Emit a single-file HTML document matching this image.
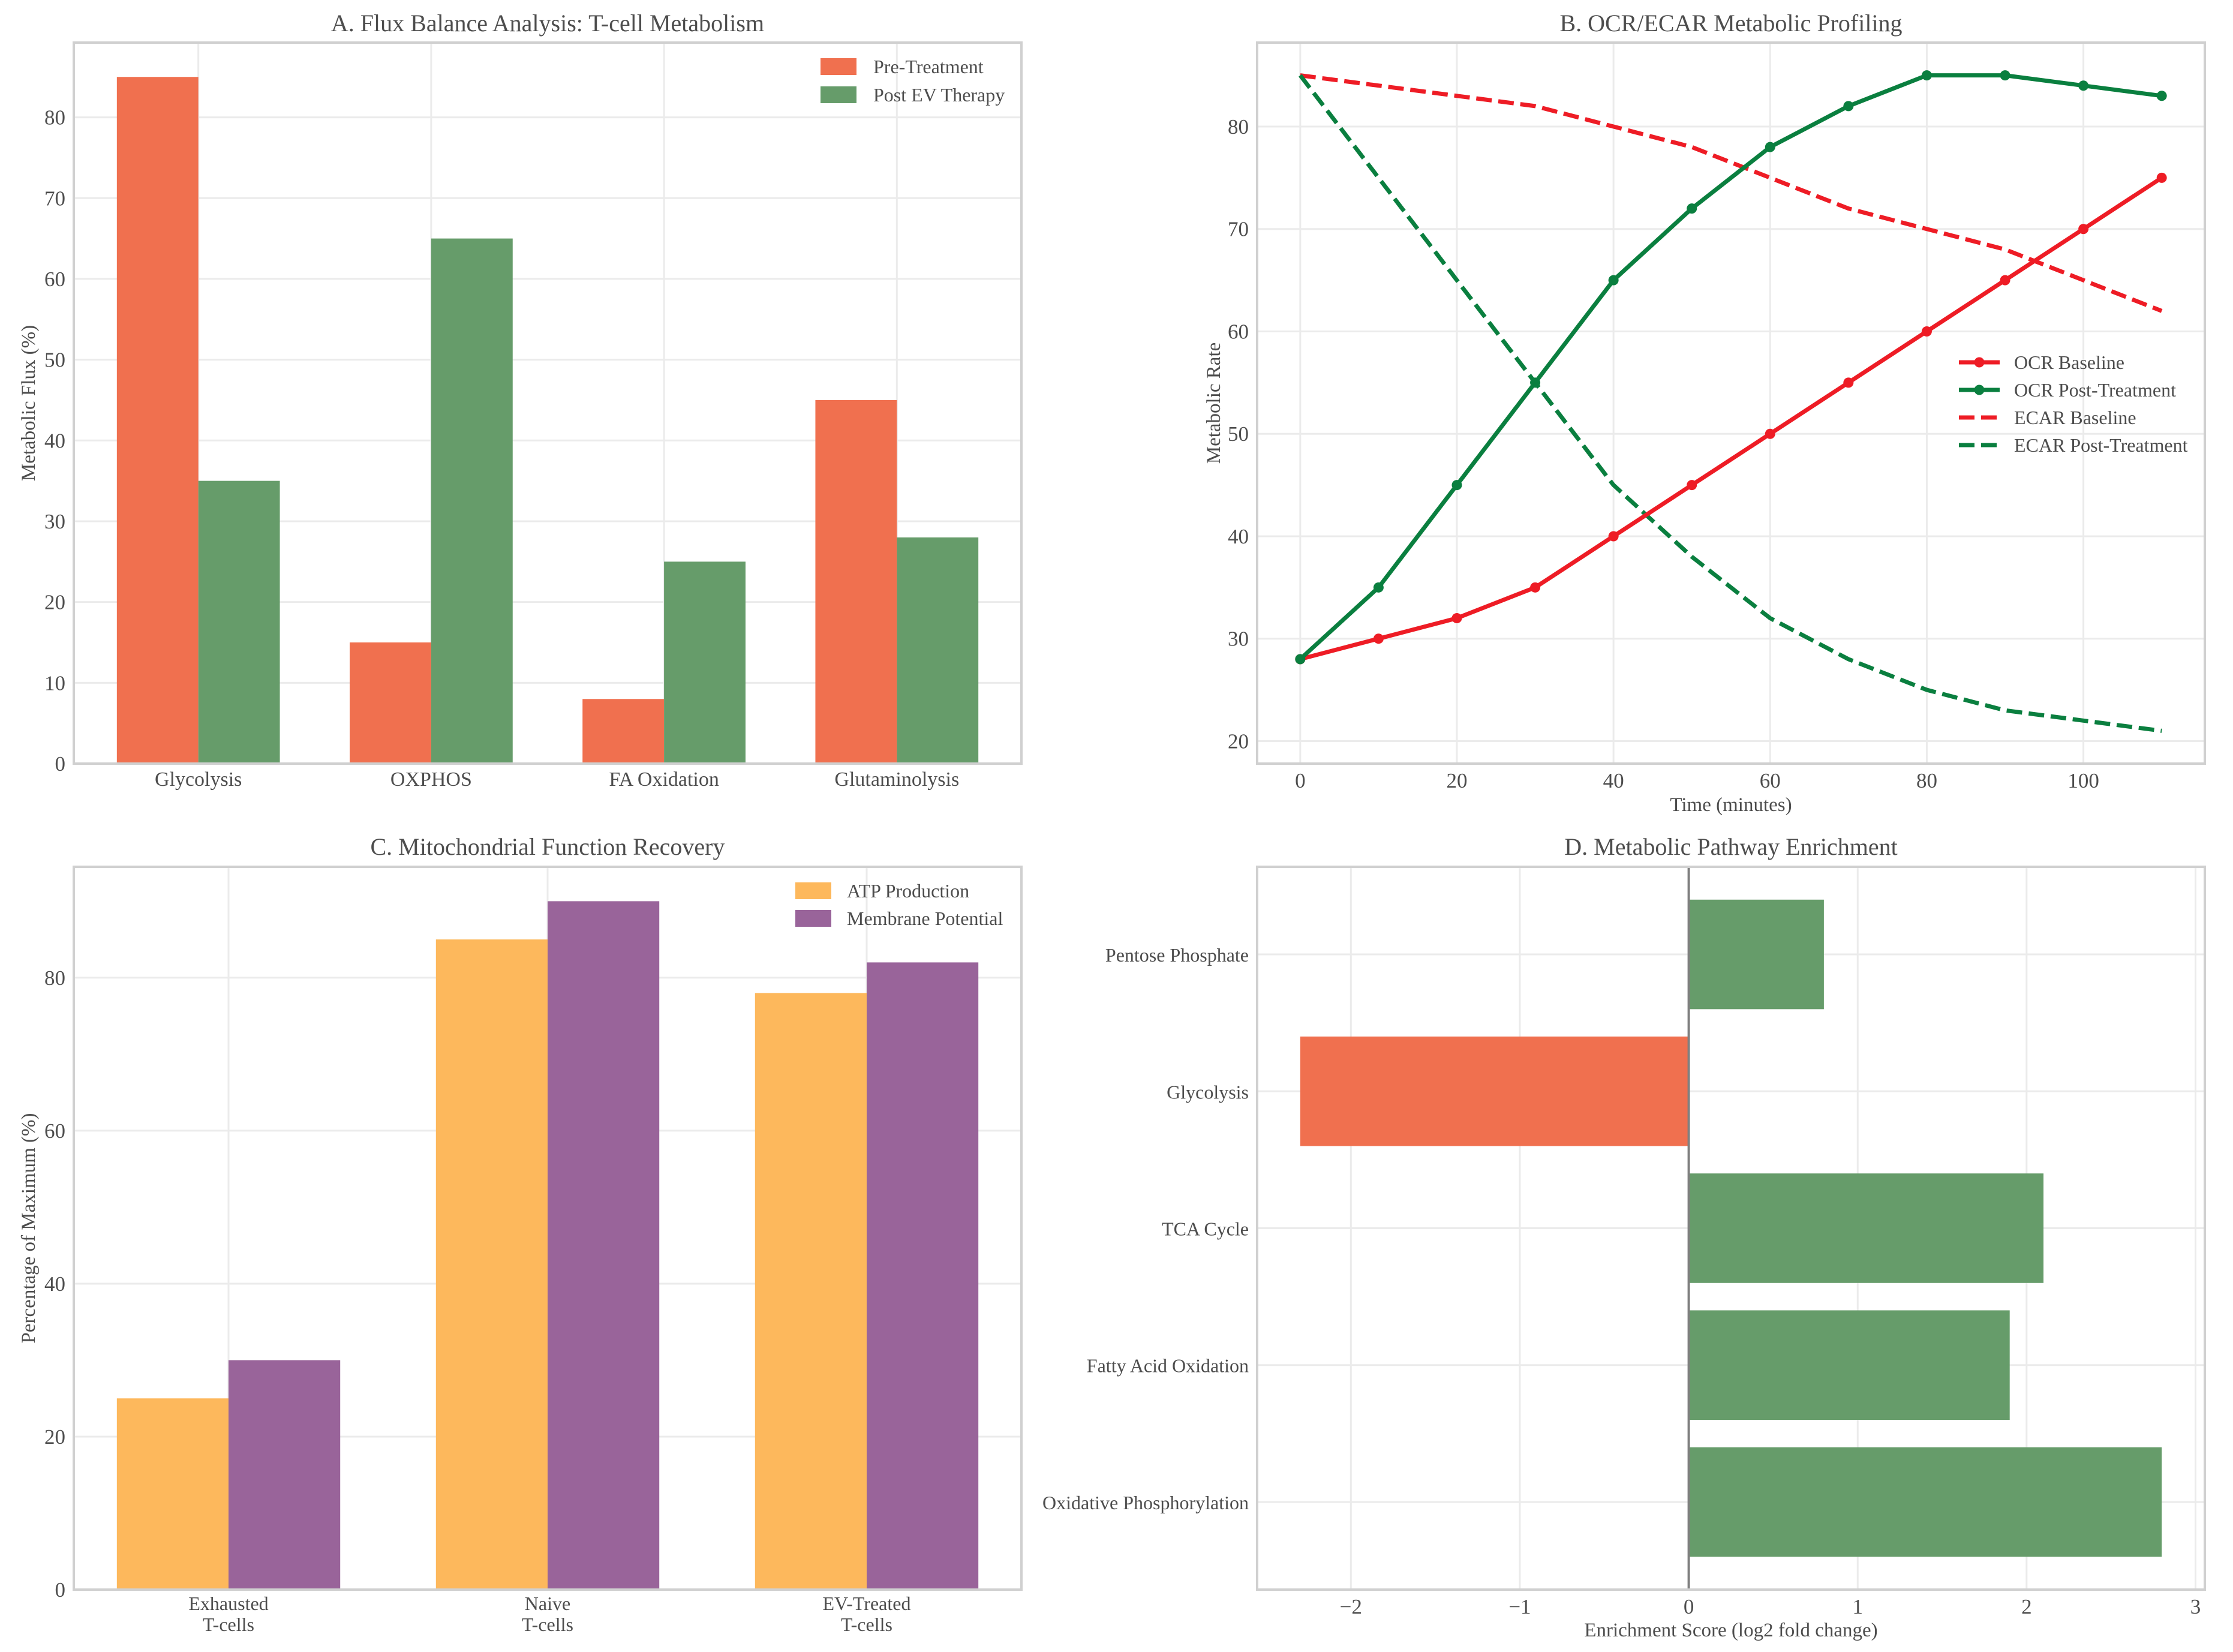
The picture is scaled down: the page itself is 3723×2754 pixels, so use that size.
<!DOCTYPE html>
<html><head><meta charset="utf-8"><style>
html,body{margin:0;padding:0;background:#fff;}
svg{display:block;font-family:"Liberation Serif","DejaVu Serif",serif;}
text{fill:#4d4d4d;}
</style></head><body>
<svg id="fig" width="3723" height="2754" viewBox="0 0 3723 2754" xmlns="http://www.w3.org/2000/svg"></svg>
<script>
// Panel A data
const fluxCategories = ["Glycolysis","OXPHOS","FA Oxidation","Glutaminolysis"];
const fluxPre = [85,15,8,45];
const fluxPost = [35,65,25,28];
const fluxTicks = [0,10,20,30,40,50,60,70,80];
// Panel B data
const timePoints = [0,10,20,30,40,50,60,70,80,90,100,110];
const ocrBaseline = [28,30,32,35,40,45,50,55,60,65,70,75];
const ocrPost = [28,35,45,55,65,72,78,82,85,85,84,83];
const ecarBaseline = [85,84,83,82,80,78,75,72,70,68,65,62];
const ecarPost = [85,75,65,55,45,38,32,28,25,23,22,21];
const timeTicks = [0,20,40,60,80,100];
const rateTicks = [20,30,40,50,60,70,80];
// Panel C data
const mitoCategories = [["Exhausted","T-cells"],["Naive","T-cells"],["EV-Treated","T-cells"]];
const atpValues = [25,85,78];
const membraneValues = [30,90,82];
const mitoTicks = [0,20,40,60,80];
// Panel D data
const pathways = ["Oxidative Phosphorylation","Fatty Acid Oxidation","TCA Cycle","Glycolysis","Pentose Phosphate"];
const enrichment = [2.8,1.9,2.1,-2.3,0.8];
const enrichTicks = [-2,-1,0,1,2,3];

const NS="http://www.w3.org/2000/svg";
const svg=document.getElementById('fig');
function el(tag,attrs,parent){const e=document.createElementNS(NS,tag);for(const k in attrs)e.setAttribute(k,attrs[k]);(parent||svg).appendChild(e);return e;}
function txt(s,attrs,parent){const t=el('text',attrs,parent);t.textContent=s;return t;}
const GRID="#ebebeb", SPINE="#d0d0d0";
const RED="#f0704f", GREEN="#669c6a";

function frame(name){
  const g=el('g',{});
  
  
  return g;
}
function spines(g,L,T,R,B){
  const r=el('rect',{x:L,y:T,width:R-L,height:B-T,fill:'none',stroke:SPINE,'stroke-width':4},g);
  
  
}

// ---------- Panel A ----------
(function(){
  const L=123,T=71,R=1703,B=1273;
  const g=frame('panel-a-flux-balance');
  const x0=-0.535,x1=3.535,y0=0,y1=89.25;
  const sx=v=>L+(v-x0)/(x1-x0)*(R-L), sy=v=>B-(v-y0)/(y1-y0)*(B-T);
  fluxTicks.forEach(v=>{const l=el('line',{x1:L,x2:R,y1:sy(v),y2:sy(v),stroke:GRID,'stroke-width':3},g);
    const t=txt(v,{x:L-14,y:sy(v)+12,'font-size':35,'text-anchor':'end'},g);});
  fluxCategories.forEach((c,i)=>{const l=el('line',{x1:sx(i),x2:sx(i),y1:T,y2:B,stroke:GRID,'stroke-width':3},g);});
  fluxCategories.forEach((c,i)=>{
    const a=el('rect',{x:sx(i-0.35),y:sy(fluxPre[i]),width:sx(0.35)-sx(0),height:sy(0)-sy(fluxPre[i]),fill:RED},g);
    
    const b=el('rect',{x:sx(i),y:sy(fluxPost[i]),width:sx(0.35)-sx(0),height:sy(0)-sy(fluxPost[i]),fill:GREEN},g);
    
    const t=txt(c,{x:sx(i),y:B+37,'font-size':34,'text-anchor':'middle'},g);
  });
  spines(g,L,T,R,B);
  const tt=txt('A. Flux Balance Analysis: T-cell Metabolism',{x:(L+R)/2,y:52,'font-size':40,'text-anchor':'middle'},g);
  const yl=txt('Metabolic Flux (%)',{x:0,y:0,'font-size':33,'text-anchor':'middle',transform:`translate(58,${(T+B)/2}) rotate(-90)`},g);
  [['Pre-Treatment',RED,111],['Post EV Therapy',GREEN,158]].forEach(([s,c,y])=>{
    const p=el('rect',{x:1368,y:y-14,width:60,height:28,fill:c},g);
    const t=txt(s,{x:1456,y:y+11,'font-size':32},g);
  });
})();

// ---------- Panel B ----------
(function(){
  const L=2096,T=71,R=3676,B=1273;
  const g=frame('panel-b-ocr-ecar');
  const x0=-5.5,x1=115.5,y0=17.8,y1=88.2;
  const sx=v=>L+(v-x0)/(x1-x0)*(R-L), sy=v=>B-(v-y0)/(y1-y0)*(B-T);
  rateTicks.forEach(v=>{const l=el('line',{x1:L,x2:R,y1:sy(v),y2:sy(v),stroke:GRID,'stroke-width':3},g);
    const t=txt(v,{x:L-14,y:sy(v)+12,'font-size':35,'text-anchor':'end'},g);});
  timeTicks.forEach(v=>{const l=el('line',{x1:sx(v),x2:sx(v),y1:T,y2:B,stroke:GRID,'stroke-width':3},g);
    const t=txt(v,{x:sx(v),y:B+40,'font-size':35,'text-anchor':'middle'},g);});
  const series=[
    [ecarBaseline,'#ee1c25',true,'line-ecar-baseline'],
    [ecarPost,'#0a7f3f',true,'line-ecar-post-treatment'],
    [ocrBaseline,'#ee1c25',false,'line-ocr-baseline'],
    [ocrPost,'#0a7f3f',false,'line-ocr-post-treatment']];
  series.forEach(([vals,col,dash,name])=>{
    const pts=vals.map((v,i)=>sx(timePoints[i])+','+sy(v)).join(' ');
    const a={points:pts,fill:'none',stroke:col,'stroke-width':7,'stroke-linejoin':'round'};
    if(dash)a['stroke-dasharray']='26,11';
    const p=el('polyline',a,g);
    if(!dash)vals.forEach((v,i)=>{const c=el('circle',{cx:sx(timePoints[i]),cy:sy(v),r:8.5,fill:col},g);});
  });
  spines(g,L,T,R,B);
  const tt=txt('B. OCR/ECAR Metabolic Profiling',{x:(L+R)/2,y:52,'font-size':40,'text-anchor':'middle'},g);
  const xl=txt('Time (minutes)',{x:(L+R)/2,y:1352,'font-size':33,'text-anchor':'middle'},g);
  const yl=txt('Metabolic Rate',{x:0,y:0,'font-size':33,'text-anchor':'middle',transform:`translate(2034,${(T+B)/2}) rotate(-90)`},g);
  [['OCR Baseline','#ee1c25',false,604],['OCR Post-Treatment','#0a7f3f',false,650],['ECAR Baseline','#ee1c25',true,696],['ECAR Post-Treatment','#0a7f3f',true,742]].forEach(([s,c,d,y])=>{
    const a={x1:3266,x2:3334,y1:y,y2:y,stroke:c,'stroke-width':7};
    if(d)a['stroke-dasharray']='26,11';
    const l=el('line',a,g);
    if(!d){const m=el('circle',{cx:3300,cy:y,r:8.5,fill:c},g);}
    const t=txt(s,{x:3358,y:y+11,'font-size':32},g);
  });
})();

// ---------- Panel C ----------
(function(){
  const L=123,T=1445,R=1703,B=2650;
  const g=frame('panel-c-mitochondrial');
  const x0=-0.485,x1=2.485,y0=0,y1=94.5;
  const sx=v=>L+(v-x0)/(x1-x0)*(R-L), sy=v=>B-(v-y0)/(y1-y0)*(B-T);
  mitoTicks.forEach(v=>{const l=el('line',{x1:L,x2:R,y1:sy(v),y2:sy(v),stroke:GRID,'stroke-width':3},g);
    const t=txt(v,{x:L-14,y:sy(v)+12,'font-size':35,'text-anchor':'end'},g);});
  mitoCategories.forEach((c,i)=>{const l=el('line',{x1:sx(i),x2:sx(i),y1:T,y2:B,stroke:GRID,'stroke-width':3},g);});
  mitoCategories.forEach((c,i)=>{
    const a=el('rect',{x:sx(i-0.35),y:sy(atpValues[i]),width:sx(0.35)-sx(0),height:sy(0)-sy(atpValues[i]),fill:'#fdb85c'},g);
    
    const b=el('rect',{x:sx(i),y:sy(membraneValues[i]),width:sx(0.35)-sx(0),height:sy(0)-sy(membraneValues[i]),fill:'#99649a'},g);
    
    c.forEach((line,j)=>{const t=txt(line,{x:sx(i),y:B+34+j*35,'font-size':32,'text-anchor':'middle'},g);});
  });
  spines(g,L,T,R,B);
  const tt=txt('C. Mitochondrial Function Recovery',{x:(L+R)/2,y:1425,'font-size':40,'text-anchor':'middle'},g);
  const yl=txt('Percentage of Maximum (%)',{x:0,y:0,'font-size':33,'text-anchor':'middle',transform:`translate(58,${(T+B)/2}) rotate(-90)`},g);
  [['ATP Production','#fdb85c',1485],['Membrane Potential','#99649a',1531]].forEach(([s,c,y])=>{
    const p=el('rect',{x:1326,y:y-14,width:60,height:28,fill:c},g);
    const t=txt(s,{x:1412,y:y+11,'font-size':32},g);
  });
})();

// ---------- Panel D ----------
(function(){
  const L=2096,T=1445,R=3676,B=2650;
  const g=frame('panel-d-pathway-enrichment');
  const x0=-2.555,x1=3.055,y0=-0.64,y1=4.64;
  const sx=v=>L+(v-x0)/(x1-x0)*(R-L), sy=v=>B-(v-y0)/(y1-y0)*(B-T);
  enrichTicks.forEach(v=>{const l=el('line',{x1:sx(v),x2:sx(v),y1:T,y2:B,stroke:GRID,'stroke-width':3},g);
    const t=txt(v<0?'\u2212'+(-v):v,{x:sx(v),y:B+40,'font-size':35,'text-anchor':'middle'},g);});
  pathways.forEach((p,i)=>{const l=el('line',{x1:L,x2:R,y1:sy(i),y2:sy(i),stroke:GRID,'stroke-width':3},g);
    const t=txt(p,{x:L-14,y:sy(i)+12,'font-size':32,'text-anchor':'end'},g);});
  pathways.forEach((p,i)=>{
    const v=enrichment[i];
    const r=el('rect',{x:Math.min(sx(0),sx(v)),y:sy(i+0.4),width:Math.abs(sx(v)-sx(0)),height:sy(i-0.4)-sy(i+0.4),fill:v<0?RED:GREEN},g);
    
  });
  const z=el('line',{x1:sx(0),x2:sx(0),y1:T,y2:B,stroke:'#808080','stroke-width':4},g);
  spines(g,L,T,R,B);
  const tt=txt('D. Metabolic Pathway Enrichment',{x:(L+R)/2,y:1425,'font-size':40,'text-anchor':'middle'},g);
  const xl=txt('Enrichment Score (log2 fold change)',{x:(L+R)/2,y:2728,'font-size':33,'text-anchor':'middle'},g);
})();
</script>
</body></html>
